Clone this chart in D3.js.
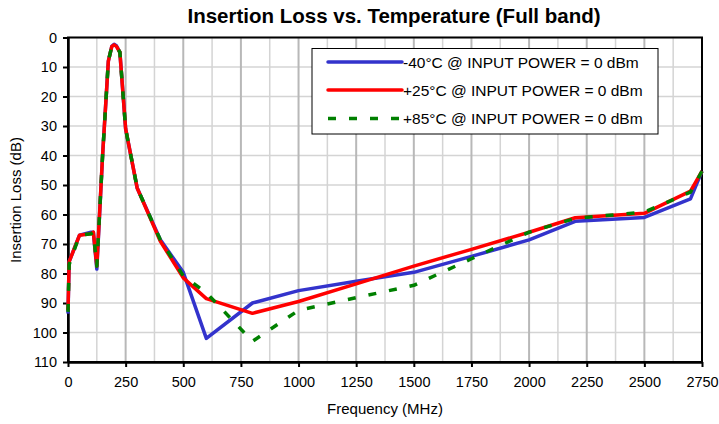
<!DOCTYPE html>
<html>
<head>
<meta charset="utf-8">
<script src="https://cdn.jsdelivr.net/npm/d3@7"></script>
<style>
  body { margin: 0; background: #fff; }
  svg { display: block; font-family: Arial, "Liberation Sans", sans-serif; }
  .tick text { font-size: 14.5px; fill: #000; }
</style>
</head>
<body>
<svg id="chart" width="719" height="424"></svg>
<script>

// frequency points (MHz)
const freqs = [0, 5, 50, 100, 110, 125, 150, 175, 190, 200, 210, 225, 250, 300, 400, 500, 600, 800, 1000, 1250, 1500, 1750, 2000, 2200, 2500, 2700, 2750];

// insertion loss (dB) for each temperature
const lossM40 = [93.6, 76, 67, 66, 66, 78.5, 40, 8, 3, 2.3, 2.8, 5, 31, 51, 68.5, 79.6, 102, 90, 85.8, 82.6, 79.6, 74.2, 68.6, 62.3, 61, 54.7, 45.3];
const loss25  = [92.5, 76, 67, 66.5, 66, 77.5, 40, 8, 3, 2.5, 3, 5, 31, 51, 69, 81.5, 88.5, 93.5, 89.5, 83.5, 77.5, 71.8, 66, 61.1, 59.6, 52.1, 45.3];
const loss85  = [93, 77, 67, 66.5, 66, 77.5, 40, 8, 3, 2.5, 3, 5, 31, 51, 68.5, 80.8, 86.5, 103, 92.5, 88.2, 84, 75, 66, 61.3, 59.2, 52.4, 45.3];

const seriesNames = ["-40°C @ INPUT POWER = 0 dBm", "+25°C @ INPUT POWER = 0 dBm", "+85°C @ INPUT POWER = 0 dBm"];
const seriesColors = ["#3333cc", "#ff0000", "#008000"];
const seriesDash = [null, null, "8,13"];
const seriesData = [lossM40, loss25, loss85];

const xTicks = d3.range(0, 2751, 250);
const xGrid = d3.range(0, 2751, 125);
const yTicks = d3.range(0, 111, 10);

const plotLeft = 68, plotRight = 702, plotTop = 37.5, plotBottom = 362;

const svg = d3.select("#chart");

let x = d3.scaleLinear().domain([0, 2750]).range([plotLeft, plotRight]);
let y = d3.scaleLinear().domain([0, 110]).range([plotTop, plotBottom]);

// title
svg.append("text")
    .attr("x", 394)
    .attr("y", 23)
    .attr("text-anchor", "middle")
    .attr("font-size", "20.5px")
    .attr("font-weight", "bold")
    .text("Insertion Loss vs. Temperature (Full band)");

// grid
svg.append("g").selectAll("line")
    .data(yTicks)
    .enter()
    .append("line")
    .attr("x1", plotLeft).attr("x2", plotRight)
    .attr("y1", d => y(d)).attr("y2", d => y(d))
    .attr("stroke", "#d4d4d4")
    .attr("stroke-width", 1.5);

svg.append("g").selectAll("line")
    .data(xGrid)
    .enter()
    .append("line")
    .attr("x1", d => x(d)).attr("x2", d => x(d))
    .attr("y1", plotTop).attr("y2", plotBottom)
    .attr("stroke", d => d % 250 === 0 ? "#b8b8b8" : "#d4d4d4")
    .attr("stroke-width", d => d % 250 === 0 ? 2 : 1.5);

// frame
svg.append("rect")
    .attr("x", plotLeft).attr("y", plotTop)
    .attr("width", plotRight - plotLeft).attr("height", plotBottom - plotTop)
    .attr("fill", "none")
    .attr("stroke", "#000")
    .attr("stroke-width", 2);

// axes
let xAxis = d3.axisBottom(x).tickValues(xTicks).tickFormat(d3.format("d"))
    .tickSize(5).tickPadding(10).tickSizeOuter(0);
let yAxis = d3.axisLeft(y).tickValues(yTicks).tickSize(5).tickPadding(6).tickSizeOuter(0);

let gx = svg.append("g").attr("transform", "translate(0," + plotBottom + ")").call(xAxis);
let gy = svg.append("g").attr("transform", "translate(" + plotLeft + ",0)").call(yAxis);
[gx, gy].forEach(g => {
  g.select(".domain").attr("stroke", "#000").attr("stroke-width", 2.5);
  g.selectAll(".tick line").attr("stroke", "#000").attr("stroke-width", 2);
});

// lines
let line = d3.line()
    .x((d, i) => x(freqs[i]))
    .y(d => y(d));

seriesData.forEach((s, k) => {
  svg.append("path")
      .datum(s)
      .attr("d", line)
      .attr("fill", "none")
      .attr("stroke", seriesColors[k])
      .attr("stroke-width", 3.5)
      .attr("stroke-linejoin", "round")
      .attr("stroke-dasharray", seriesDash[k]);
});

// legend
let legend = svg.append("g");
legend.append("rect")
    .attr("x", 312).attr("y", 48.5)
    .attr("width", 346).attr("height", 85.5)
    .attr("fill", "#fff")
    .attr("stroke", "#000")
    .attr("stroke-width", 1);

const legendY = [62, 90, 118.5];
seriesNames.forEach((name, k) => {
  legend.append("line")
      .attr("x1", 328).attr("x2", 402)
      .attr("y1", legendY[k]).attr("y2", legendY[k])
      .attr("stroke", seriesColors[k])
      .attr("stroke-width", 3.5)
      .attr("stroke-linecap", seriesDash[k] ? "butt" : "round")
      .attr("stroke-dasharray", seriesDash[k]);
  legend.append("text")
      .attr("x", 403)
      .attr("y", legendY[k])
      .attr("dy", "0.36em")
      .attr("font-size", "15.5px")
      .text(name);
});

// axis labels
svg.append("text")
    .attr("transform", "translate(21,200) rotate(-90)")
    .attr("text-anchor", "middle")
    .attr("font-size", "15px")
    .text("Insertion Loss (dB)");

svg.append("text")
    .attr("x", 385)
    .attr("y", 414)
    .attr("text-anchor", "middle")
    .attr("font-size", "15px")
    .text("Frequency (MHz)");

</script>
</body>
</html>
